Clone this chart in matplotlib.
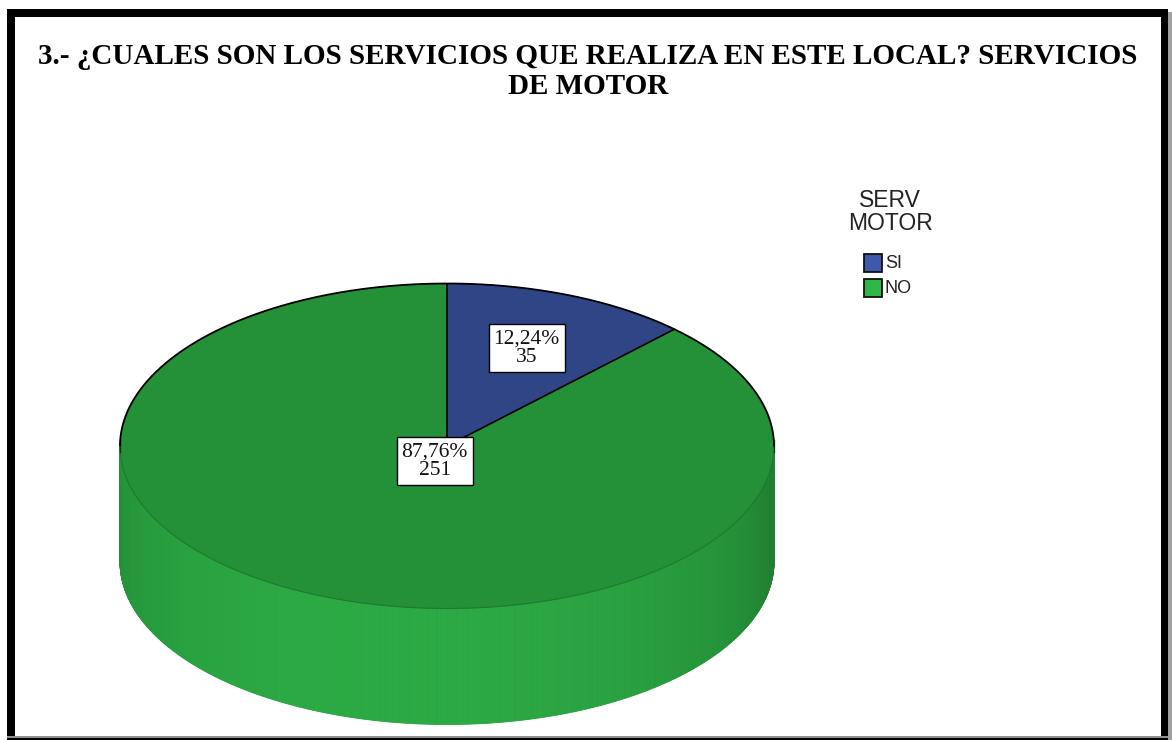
import numpy as np
import matplotlib
matplotlib.use("Agg")
import matplotlib.pyplot as plt
from matplotlib.patches import Polygon, Rectangle

# ---- data -------------------------------------------------------------
title_lines = ["3.- ¿CUALES SON LOS SERVICIOS QUE REALIZA EN ESTE LOCAL? SERVICIOS",
               "DE MOTOR"]
legend_title = "SERV\nMOTOR"
categories = ["SI", "NO"]
counts = [35, 251]
base_colors = ["#3E58AC", "#2EB848"]

# ---- canvas in pixel coordinates --------------------------------------
W, H = 1172, 740
fig = plt.figure(figsize=(W / 100, H / 100), dpi=100)
ax = fig.add_axes([0, 0, 1, 1])
ax.set_xlim(0, W)
ax.set_ylim(H, 0)
ax.axis("off")

# ---- pie geometry (3D tilted disc) ------------------------------------
cx, cy = 447.0, 446.0
rx, ry = 327.0, 162.5
depth = 116.0
top_shade = 0.78
label_radius = [0.65, 0.10]

total = float(sum(counts))
fracs = [c / total for c in counts]
pcts = [100.0 * f for f in fracs]

starts, ends = [], []
a = 90.0
for f in fracs:
    starts.append(a)
    ends.append(a - 360.0 * f)
    a -= 360.0 * f


def rgb(hexcol):
    h = hexcol.lstrip("#")
    return np.array([int(h[i:i + 2], 16) for i in (0, 2, 4)]) / 255.0


def point(t_deg, dy=0.0, r=1.0):
    t = np.radians(t_deg)
    return cx + r * rx * np.cos(t), cy - r * ry * np.sin(t) + dy


def slice_of(t_deg):
    # normalise into (-270, 90]
    t = t_deg
    while t > 90:
        t -= 360
    while t <= -270:
        t += 360
    for i, (s, e) in enumerate(zip(starts, ends)):
        if e <= t <= s:
            return i
    return len(counts) - 1


def side_shade(t_deg):
    # brightest a little left of the front, darker toward the silhouettes
    k = np.cos(np.radians(t_deg - 258.0))
    return 0.70 + 0.22 * max(k, 0.0) ** 0.8


# side wall (front half only)
ts = np.linspace(180, 360, 721)
for t0, t1 in zip(ts[:-1], ts[1:]):
    tm = 0.5 * (t0 + t1)
    col = np.clip(rgb(base_colors[slice_of(tm)]) * side_shade(tm), 0, 1)
    pts = [point(t0), point(t1), point(t1, depth), point(t0, depth)]
    ax.add_patch(Polygon(pts, closed=True, fc=col, ec=col, lw=0.6,
                         antialiased=True, zorder=2))

# top face wedges
for i in range(len(counts)):
    arc = np.linspace(starts[i], ends[i], 400)
    pts = [(cx, cy)] + [point(t) for t in arc]
    col = np.clip(rgb(base_colors[i]) * top_shade, 0, 1)
    ax.add_patch(Polygon(pts, closed=True, fc=col, ec=col, lw=0.5, zorder=3))

# outlines
up = np.linspace(0, 180, 400)
ux, uy = zip(*[point(t) for t in up])
ax.plot(ux, uy, color="black", lw=1.3, zorder=4, solid_capstyle="round")
lo = np.linspace(180, 360, 400)
lx, ly = zip(*[point(t) for t in lo])
ax.plot(lx, ly, color="#1d6e2e", lw=0.8, alpha=0.7, zorder=4)
for s in starts:
    px, py = point(s)
    ax.plot([cx, px], [cy, py], color="black", lw=1.2, zorder=4)
for t in (180, 360):
    px, py = point(t)
    ax.plot([px, px], [py - 6, py + 6], color="black", lw=1.0, alpha=0.6, zorder=4)

# value labels
for i in range(len(counts)):
    mid = 0.5 * (starts[i] + ends[i])
    lx_, ly_ = point(mid, r=label_radius[i])
    txt = f"{pcts[i]:.2f}%".replace(".", ",") + f"\n{counts[i]}"
    ax.text(lx_, ly_, txt, ha="center", va="center", fontsize=15.5,
            family="Liberation Serif", color="#111111", linespacing=1.0,
            zorder=6,
            bbox=dict(boxstyle="square,pad=0.22", fc="white", ec="black", lw=1.0))

# ---- title -------------------------------------------------------------
for k, line in enumerate(title_lines):
    ax.text(588, 56 + 30 * k, line, ha="center", va="center", fontsize=21,
            family="Liberation Serif", fontweight="bold", color="black")

# ---- legend ------------------------------------------------------------
ax.text(890, 212, legend_title, ha="center", va="center", fontsize=16.5,
        family="Liberation Sans", color="#222222", linespacing=1.05)
for i, cat in enumerate(categories):
    y0 = 254 + 24.5 * i
    ax.add_patch(Rectangle((864, y0), 18, 18, fc=base_colors[i], ec="#111111",
                           lw=1.3, zorder=5))
    ax.text(885, y0 + 10, cat, ha="left", va="center", fontsize=13,
            family="Liberation Sans", color="#222222")

# ---- frame -------------------------------------------------------------
ax.add_patch(Rectangle((1168, 12), 4, 728, fc="#a0a0a0", ec="none", zorder=9))
ax.add_patch(Rectangle((7, 9), 1161, 8, fc="black", ec="none", zorder=10))
ax.add_patch(Rectangle((7, 9), 8, 731, fc="black", ec="none", zorder=10))
ax.add_patch(Rectangle((1161, 9), 7, 731, fc="black", ec="none", zorder=10))
ax.add_patch(Rectangle((7, 736), 1161, 1.5, fc="#909090", ec="none", zorder=10))
ax.add_patch(Rectangle((7, 737.5), 1161, 3, fc="black", ec="none", zorder=10))

fig.savefig("out.png", dpi=100)
